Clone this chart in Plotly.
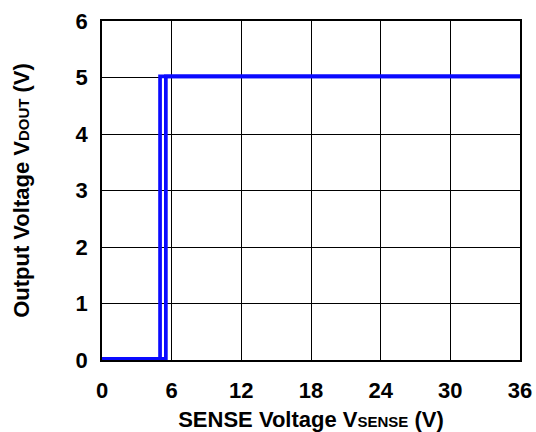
import plotly.graph_objects as go

# Rising sweep (VSENSE increasing) and falling sweep (VSENSE decreasing)
rise_x = [0, 5.5, 5.5, 36]
rise_y = [0.02, 0.02, 5.02, 5.02]
fall_x = [36, 5.0, 5.0, 0]
fall_y = [5.02, 5.02, 0.02, 0.02]

x_ticks = [0, 6, 12, 18, 24, 30, 36]
y_ticks = [0, 1, 2, 3, 4, 5, 6]

BLUE = "#0a0aff"
FONT = "Liberation Sans, Arial, sans-serif"

fig = go.Figure()
fig.add_trace(go.Scatter(x=rise_x, y=rise_y, mode="lines",
                         line={"color": BLUE, "width": 3.7}, cliponaxis=False,
                         showlegend=False))
fig.add_trace(go.Scatter(x=fall_x, y=fall_y, mode="lines",
                         line={"color": BLUE, "width": 3.7}, cliponaxis=False,
                         showlegend=False))

axis_common = dict(
    showgrid=True, gridcolor="black", gridwidth=1,
    showline=True, linecolor="black", linewidth=1.5, mirror=True,
    zeroline=False, ticks="", layer="below traces", automargin=False,
    tickfont={"family": FONT, "size": 22, "color": "black", "weight": "bold"},
)
title_font = {"family": FONT, "size": 22, "color": "black", "weight": "bold"}

fig.update_xaxes(range=[0, 36], tickvals=x_ticks, ticklabelstandoff=10,
                 title={"text": "SENSE Voltage V<span style='font-size:15px'>SENSE</span> (V)",
                        "font": title_font, "standoff": 10},
                 **axis_common)
fig.update_yaxes(range=[0, 6], tickvals=y_ticks, ticklabelstandoff=8,
                 title={"text": "Output Voltage V<span style='font-size:15px'>DOUT</span> (V)",
                        "font": title_font, "standoff": 40},
                 **axis_common)

fig.update_layout(
    width=536, height=432,
    margin={"l": 102, "r": 16, "t": 21, "b": 72},
    plot_bgcolor="white", paper_bgcolor="white",
    font={"family": FONT},
)

# drop the browser's default 8px body margin so the figure fills the window
fig.write_html("out.html", config={"displayModeBar": False},
               post_script="document.body.style.margin='0';"
                           "document.documentElement.style.overflow='hidden';")
